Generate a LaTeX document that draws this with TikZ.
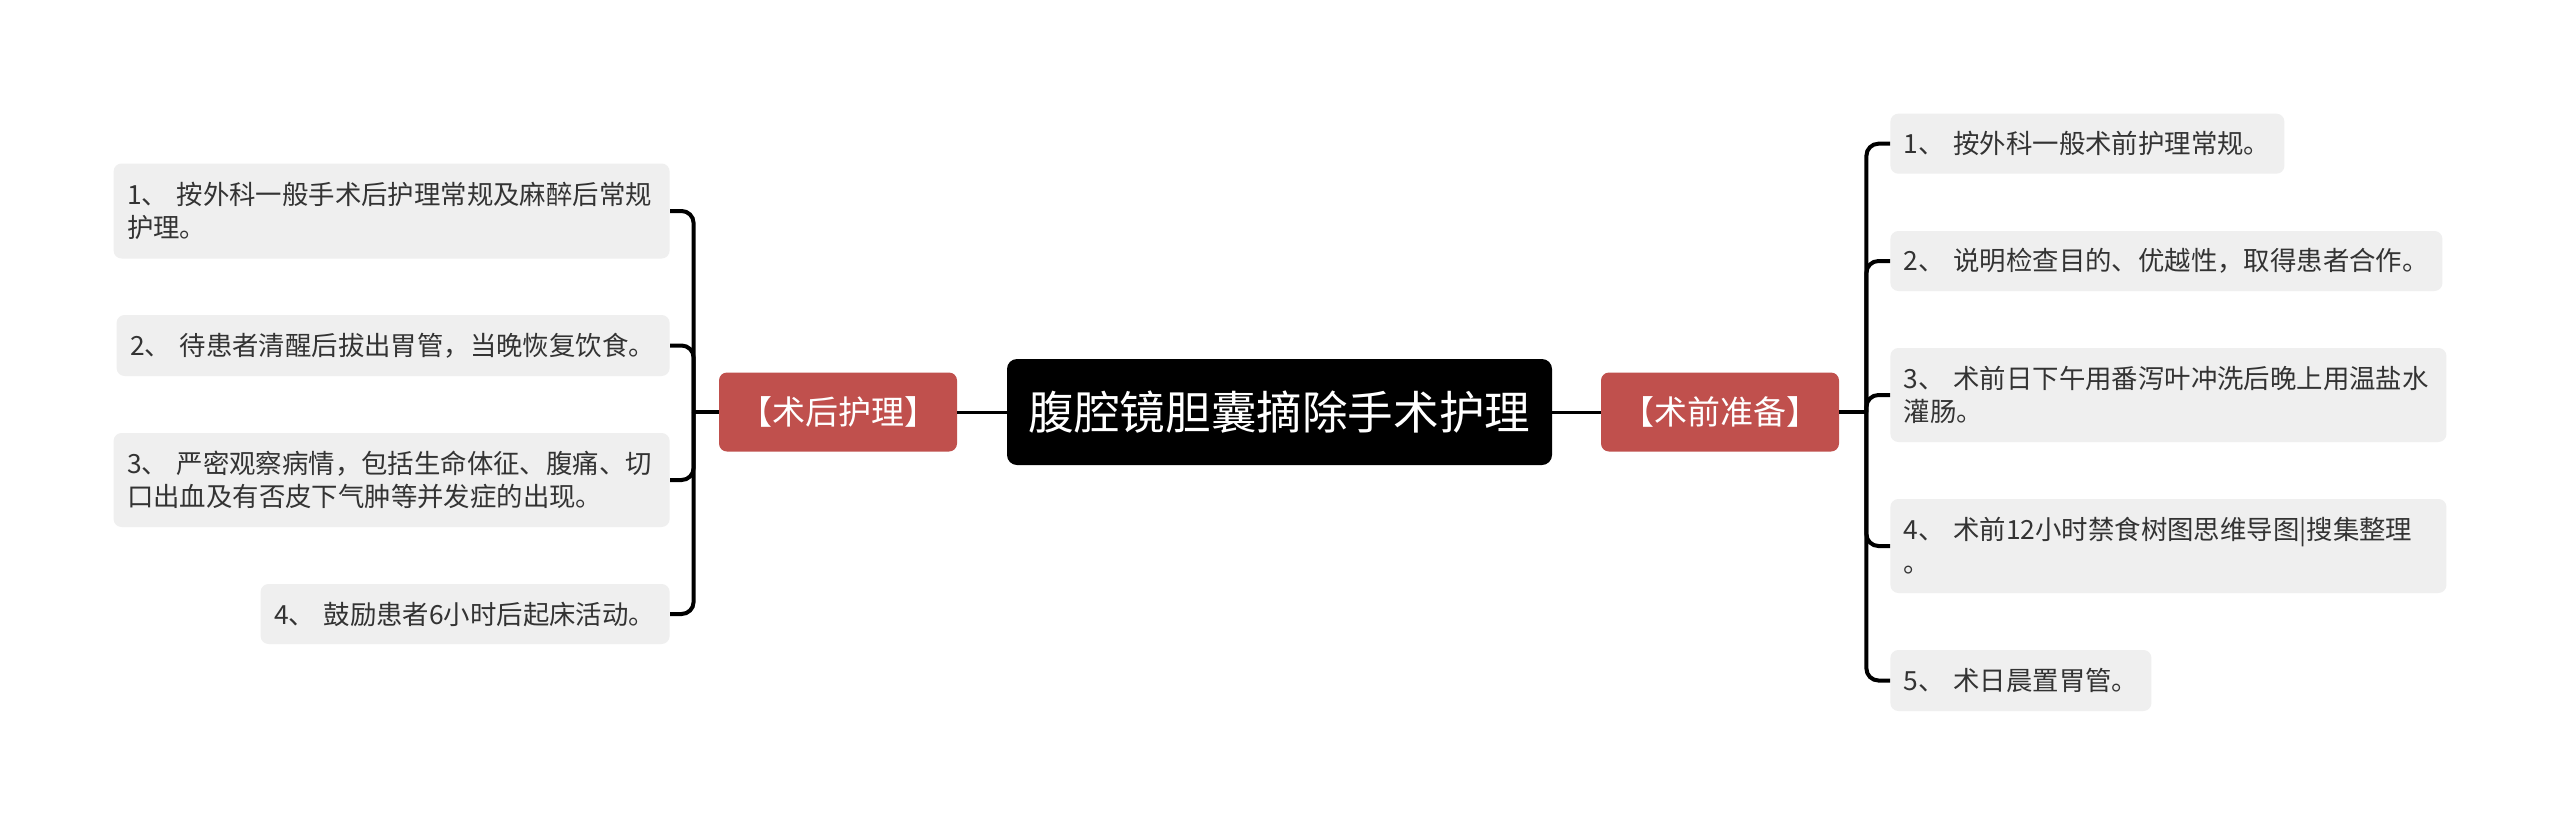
\documentclass[tikz,border=0pt]{standalone}
\usepackage{fontspec}
\setmainfont{Noto Sans CJK SC}
\definecolor{redbox}{HTML}{C0504D}
\definecolor{graybox}{HTML}{EFEFEF}
\definecolor{txt}{HTML}{333333}
\newcommand{\gapx}{\nobreak\hspace{0.32em}\nobreak}
\begin{document}
\begin{tikzpicture}[x=0.5pt,y=-0.5pt,
  leaf/.style={fill=graybox, rounded corners=4pt, text=txt,
    font=\fontsize{13.2pt}{16.5pt}\selectfont, align=left,
    inner xsep=6.75pt, inner ysep=0pt},
  rootbox/.style={fill=black, rounded corners=5pt, text=white,
    font=\fontsize{22.8pt}{27pt}\selectfont, minimum width=272.5pt,
    minimum height=53pt, inner sep=0pt},
  catbox/.style={fill=redbox, rounded corners=4pt, text=white,
    font=\fontsize{16.5pt}{19pt}\selectfont, minimum width=119pt,
    minimum height=39.5pt, inner sep=0pt},
  mainlink/.style={line width=1.5pt, draw=black},
  branch/.style={line width=2pt, draw=black, rounded corners=6pt}]
\fill[white] (0,0) rectangle (2560,825);
\useasboundingbox (0,0) rectangle (2560,825);

\node[rootbox] (root) at (1279.5,412) {腹腔镜胆囊摘除手术护理};
\node[catbox] (lcat) at (838,412) {【术后护理】};
\node[catbox] (rcat) at (1720,412) {【术前准备】};

\node[leaf, anchor=east, text width=264.5pt, minimum height=47.5pt] (L1) at (670,211)
  {1、\gapx 按外科一般手术后护理常规及麻醉后常规\\护理。};
\node[leaf, anchor=east, text width=263pt, minimum height=30.5pt] (L2) at (670,345.5)
  {2、\gapx 待患者清醒后拔出胃管，当晚恢复饮食。};
\node[leaf, anchor=east, text width=264.5pt, minimum height=47pt] (L3) at (670,480)
  {3、\gapx 严密观察病情，包括生命体征、腹痛、切\\口出血及有否皮下气肿等并发症的出现。};
\node[leaf, anchor=east, text width=191pt, minimum height=30pt] (L4) at (670,614)
  {4、\gapx 鼓励患者6小时后起床活动。};

\node[leaf, anchor=west, text width=183.5pt, minimum height=30pt] (R1) at (1890,143.7)
  {1、\gapx 按外科一般术前护理常规。};
\node[leaf, anchor=west, text width=262.5pt, minimum height=30pt] (R2) at (1890,261)
  {2、\gapx 说明检查目的、优越性，取得患者合作。};
\node[leaf, anchor=west, text width=264.5pt, minimum height=47pt] (R3) at (1890,395)
  {3、\gapx 术前日下午用番泻叶冲洗后晚上用温盐水\\灌肠。};
\node[leaf, anchor=west, text width=264.5pt, minimum height=47pt] (R4) at (1890,546)
  {4、\gapx 术前12小时禁食树图思维导图|搜集整理\\。};
\node[leaf, anchor=west, text width=117pt, minimum height=30.5pt] (R5) at (1890,680.5)
  {5、\gapx 术日晨置胃管。};

\draw[mainlink] (lcat.east) -- (root.west);
\draw[mainlink] (root.east) -- (rcat.west);

\coordinate (lj) at ([xshift=-12.5pt]lcat.west);
\coordinate (rj) at ([xshift=13.5pt]rcat.east);
\draw[line width=2pt] (lcat.west) -- (lj);
\draw[line width=2pt] (rcat.east) -- (rj);

\foreach \n in {L1,L2,L3,L4} {\draw[branch] (lj) |- (\n.east);}
\foreach \n in {R1,R2,R3,R4,R5} {\draw[branch] (rj) |- (\n.west);}
\end{tikzpicture}
\end{document}
